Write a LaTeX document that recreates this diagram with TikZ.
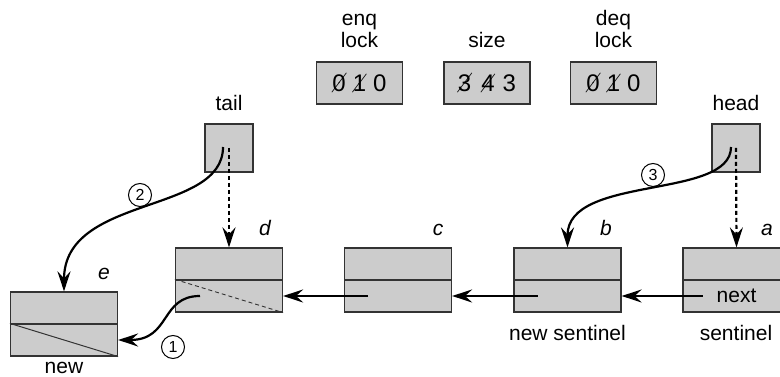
\documentclass[tikz,border=0pt]{standalone}
\usepackage{fontspec}
\setmainfont{Liberation Sans}
\usepackage[thicklines]{cancel}
\usetikzlibrary{positioning,arrows.meta,calc}
\definecolor{QFill}{HTML}{CCCCCC}
\definecolor{QEdge}{HTML}{333333}
\newcommand{\qlblfont}{\fontsize{21}{22}\selectfont}
\newcommand{\qdigfont}{\fontsize{24}{26}\selectfont}
\newcommand{\qstepfont}{\fontsize{16}{18}\selectfont}

\begin{document}
\begin{tikzpicture}[x=1pt,y=1pt]
  \tikzset{
    qcell/.style={
      draw=QEdge,
      line width=1.2pt,
      fill=QFill,
      minimum width=107pt,
      minimum height=32pt,
      inner sep=0pt
    },
    qcounter/.style={qcell,minimum width=86pt,minimum height=42pt,font=\qdigfont},
    qptr/.style={qcell,minimum width=48pt,minimum height=48pt},
    qtext/.style={font=\qlblfont,inner sep=0pt,align=center},
    qname/.style={font=\qlblfont\itshape,inner sep=0pt,anchor=base},
    qarrow/.style={
      -{Stealth[length=20pt,width=13pt,inset=7pt]},
      line width=2.2pt
    },
    qptrarrow/.style={qarrow,dash pattern=on 4pt off 3pt},
    qstep/.style={circle,draw,line width=1pt,minimum size=23pt,inner sep=0pt,font=\qstepfont}
  }
  \useasboundingbox (0,0) rectangle (780,377);

  % ------------------------------------------------------------------
  % Counters: locks and size
  % ------------------------------------------------------------------
  \node[qcounter] (enq) at (359.5,294) {\cancel{0}\hspace{7pt}\cancel{1}\hspace{7pt}0};
  \node[qcounter] (size) at (487,294) {\cancel{3}\hspace{10pt}\cancel{4}\hspace{8pt}3};
  \node[qcounter] (deq) at (613.5,294) {\cancel{0}\hspace{7pt}\cancel{1}\hspace{7pt}0};
  \node[qtext,above=13pt of enq] (enqlbl) {enq\\lock};
  \node[qtext,above=13pt of size] (sizelbl) {size};
  \node[qtext,above=13pt of deq] (deqlbl) {deq\\lock};

  % ------------------------------------------------------------------
  % Tail and head pointers
  % ------------------------------------------------------------------
  \node[qptr] (tail) at (229,229) {};
  \node[qtext,above=12pt of tail] (taillbl) {tail};
  \node[qptr] (head) at (736,229) {};
  \node[qtext,above=12pt of head] (headlbl) {head};

  % ------------------------------------------------------------------
  % List nodes, two fields each
  % ------------------------------------------------------------------
  \node[qcell] (etop) at (64,69) {};
  \node[qcell] (elow) at (64,37) {};
  \node[qcell] (dtop) at (229,113) {};
  \node[qcell] (dlow) at (229,81) {};
  \node[qcell] (ctop) at (398,113) {};
  \node[qcell] (clow) at (398,81) {};
  \node[qcell] (btop) at (567.5,113) {};
  \node[qcell] (blow) at (567.5,81) {};
  \node[qcell] (atop) at (736.5,113) {};
  \node[qcell,font=\qlblfont] (alow) at (736.5,81) {next};

  \draw[QEdge,line width=1pt] (elow.north west) -- (elow.south east);
  \draw[QEdge,line width=0.9pt,dash pattern=on 4pt off 3pt]
    (dlow.north west) -- (dlow.south east);

  \node[qname] (ename) at (104,97) {e};
  \node[qname] (dname) at (265,141) {d};
  \node[qname] (cname) at (438,141) {c};
  \node[qname] (bname) at (606,141) {b};
  \node[qname] (aname) at (767,141) {a};

  \node[qtext,anchor=base] (newlbl) at (64,3) {new};
  \node[qtext,anchor=base] (newsent) at (567.5,36) {new sentinel};
  \node[qtext,anchor=base] (sent) at (736,36) {sentinel};

  % ------------------------------------------------------------------
  % Links and pointer moves
  % ------------------------------------------------------------------
  \draw[qarrow] ($(alow.center)+(-34,0)$) -- (blow.east);
  \draw[qarrow] ($(blow.center)+(-30,0)$) -- (clow.east);
  \draw[qarrow] ($(clow.center)+(-30,0)$) -- (dlow.east);
  \draw[qarrow] ($(dlow.center)+(-29,0)$) .. controls +(-40,0) and +(53,0) .. (elow.east);

  \draw[qptrarrow] (tail.center) -- (dtop.north);
  \draw[qptrarrow] (head.center) -- (atop.north);
  \draw[qarrow] ($(tail.center)+(-6,1)$) .. controls +(0,-68) and +(0,97) .. (etop.north);
  \draw[qarrow] ($(head.center)+(-5,1)$) .. controls +(0,-53) and +(0,73) .. (btop.north);

  \node[qstep] (stepone) at (173,30) {1};
  \node[qstep] (steptwo) at (140,182) {2};
  \node[qstep] (stepthree) at (653,202) {3};
\end{tikzpicture}
\end{document}
